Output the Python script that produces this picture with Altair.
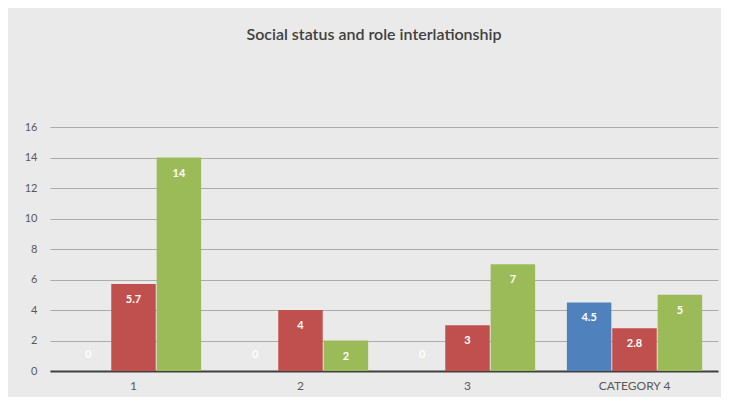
import altair as alt
import pandas as pd

categories = ["1", "2", "3", "CATEGORY 4"]
series = ["Series 1", "Series 2", "Series 3"]
s1 = [0, 0, 0, 4.5]
s2 = [5.7, 4, 3, 2.8]
s3 = [14, 2, 7, 5]
labels1 = ["0", "0", "0", "4.5"]
labels2 = ["5.7", "4", "3", "2.8"]
labels3 = ["14", "2", "7", "5"]
colors = ["#4f81bd", "#c0504d", "#9bbb59"]

rows = []
for vals, labs, s in zip([s1, s2, s3], [labels1, labels2, labels3], series):
    for c, v, l in zip(categories, vals, labs):
        rows.append({"category": c, "series": s, "value": v, "label": l})
df = pd.DataFrame(rows)

x = alt.X("category:N", sort=categories, title=None,
          scale=alt.Scale(paddingInner=0.19, paddingOuter=0.095),
          axis=alt.Axis(labelAngle=0, labelColor="#595959", labelFont="Lato",
                        labelFontSize=12, ticks=False, domainColor="#404040",
                        domainWidth=2, labelPadding=9, grid=False))
y = alt.Y("value:Q", title=None,
          scale=alt.Scale(domain=[0, 16], nice=False),
          axis=alt.Axis(tickCount=8, tickMinStep=2, labelOverlap=False,
                        labelColor="#595959",
                        labelFont="Lato", labelFontSize=11, ticks=False,
                        domain=False, gridColor="#ababab", gridWidth=1,
                        labelPadding=13))
xo = alt.XOffset("series:N", sort=series, scale=alt.Scale(paddingInner=0.02))
col = alt.Color("series:N", sort=series, scale=alt.Scale(domain=series, range=colors), legend=None)

base = alt.Chart(df).encode(x=x, xOffset=xo, y=y)
bars = base.mark_bar().encode(color=col)
txt_pos = base.transform_filter("datum.value > 0").mark_text(
    color="white", fontWeight="bold", font="Lato", fontSize=11, baseline="middle", dy=16
).encode(text="label:N")
txt_zero = base.transform_filter("datum.value <= 0").mark_text(
    color="white", fontWeight="bold", font="Lato", fontSize=11, baseline="middle", dy=-16
).encode(text="label:N")

chart = alt.layer(bars, txt_pos, txt_zero).properties(
    width=668, height=244,
    title=alt.TitleParams("Social status and role interlationship", font="Lato",
                          fontSize=16, fontWeight=600, color="#404040",
                          anchor="middle", dx=-10, offset=78),
    autosize=alt.AutoSizeParams(type="none"),
    padding={"left": 42, "top": 119, "right": 3, "bottom": 26},
    background="#eaeaea",
).configure_view(stroke=None)

chart.save("out.html", embed_options={"renderer": "svg", "actions": False})
